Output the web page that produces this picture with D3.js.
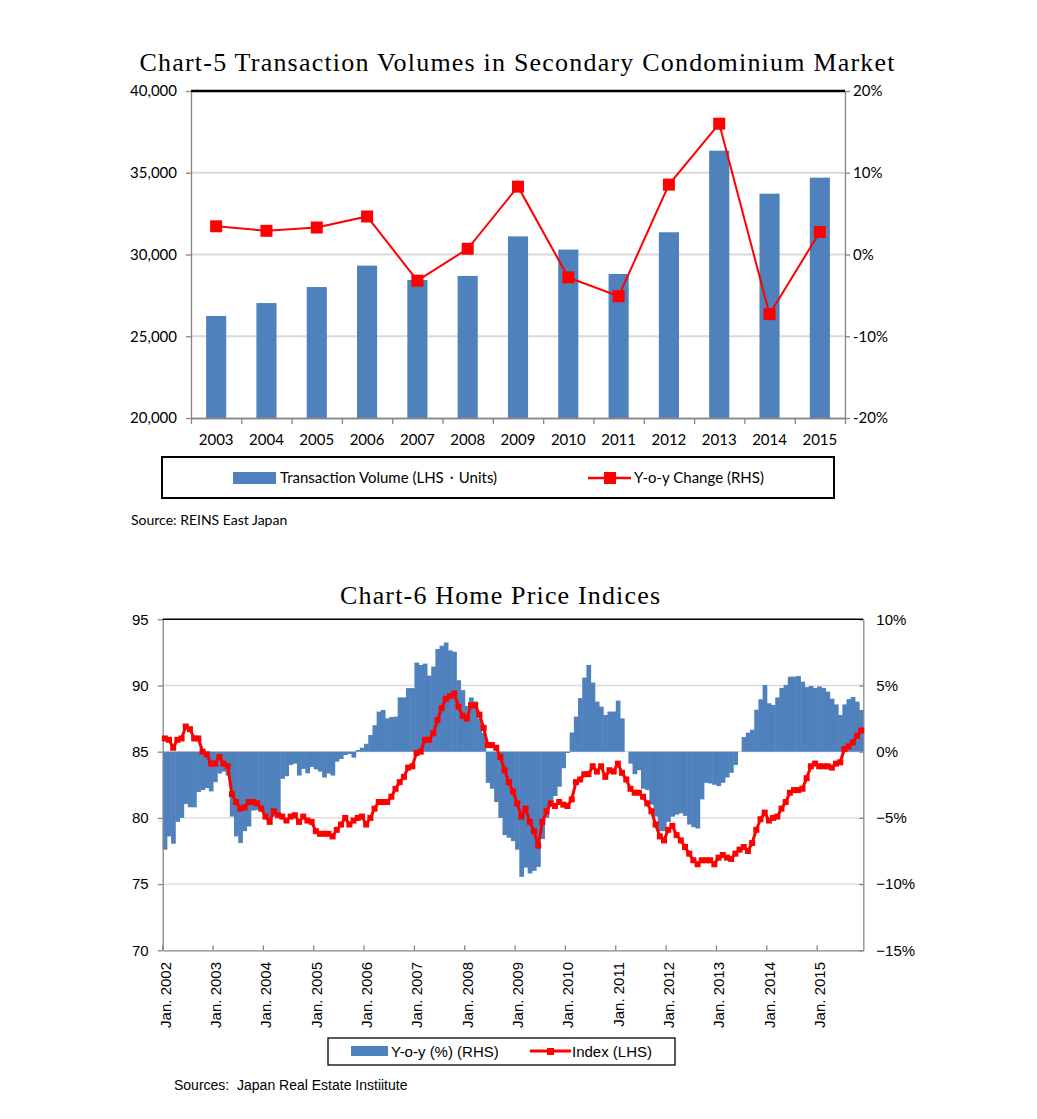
<!DOCTYPE html>
<html>
<head>
<meta charset="utf-8">
<script src="https://cdn.jsdelivr.net/npm/d3@7"></script>
<style>
  body { margin: 0; background: #fff; }
  .lbl5 { font-family: Lato, "Open Sans", sans-serif; font-size: 15px; fill: #000; }
  .lbl6 { font-family: "Liberation Sans", Arial, sans-serif; font-size: 14px; fill: #000; }
  .ttl { font-family: "Liberation Serif", "DejaVu Serif", serif; font-size: 26px; fill: #000; }
</style>
</head>
<body>
<div id="chart"></div>
<script>
// ---- Chart-5 data (annual) ----
const years5 = ["2003","2004","2005","2006","2007","2008","2009","2010","2011","2012","2013","2014","2015"];
const volume5 = [26240, 27030, 28010, 29320, 28440, 28690, 31110, 30300, 28810, 31360, 36350, 33720, 34700];
const yoy5 = [3.45, 2.9, 3.3, 4.65, -3.2, 0.7, 8.3, -2.8, -5.1, 8.55, 16.0, -7.3, 2.75];
const volTicks5 = [20000, 25000, 30000, 35000, 40000];
const pctTicks5 = [-20, -10, 0, 10, 20];

// ---- Chart-6 data (monthly, Jan 2002 - Nov 2015) ----
const yearLabels6 = ["Jan. 2002","Jan. 2003","Jan. 2004","Jan. 2005","Jan. 2006","Jan. 2007","Jan. 2008",
  "Jan. 2009","Jan. 2010","Jan. 2011","Jan. 2012","Jan. 2013","Jan. 2014","Jan. 2015"];
const index6 = [
  86.0, 85.9, 85.3, 85.9, 86.0, 86.9, 86.7, 86.0, 86.0, 85.0, 84.8, 84.1,   // 2002
  84.1, 84.6, 84.1, 83.9, 81.8, 81.2, 80.7, 80.8, 81.2, 81.2, 81.1, 80.7,   // 2003
  80.1, 79.7, 80.5, 80.2, 80.1, 79.8, 80.1, 80.2, 79.7, 80.1, 79.8, 79.7,   // 2004
  79.0, 78.8, 78.8, 78.8, 78.6, 79.1, 79.5, 80.0, 79.5, 79.8, 80.0, 80.1,   // 2005
  79.5, 80.0, 80.7, 81.2, 81.2, 81.2, 81.6, 82.2, 82.7, 83.1, 83.8, 83.9,   // 2006
  84.9, 85.0, 85.9, 85.9, 86.4, 87.4, 88.3, 89.0, 89.2, 89.4, 88.4, 87.7,   // 2007
  87.5, 88.5, 88.5, 87.8, 86.8, 85.5, 85.5, 85.3, 84.6, 83.6, 82.7, 82.0,   // 2008
  81.1, 80.1, 80.7, 79.7, 79.0, 77.9, 79.7, 80.5, 81.1, 80.9, 81.2, 81.0,   // 2009
  80.9, 81.4, 82.7, 82.9, 83.3, 83.3, 83.9, 83.5, 83.9, 83.1, 83.6, 83.5,   // 2010
  84.1, 83.4, 82.9, 82.2, 81.9, 81.9, 81.6, 81.1, 80.5, 79.5, 78.6, 78.3,   // 2011
  79.1, 79.4, 78.7, 78.3, 77.8, 77.3, 76.8, 76.5, 76.8, 76.8, 76.8, 76.5,   // 2012
  77.0, 77.2, 77.0, 76.9, 77.3, 77.6, 77.8, 77.5, 78.1, 79.1, 79.9, 80.4,   // 2013
  79.8, 80.0, 80.1, 80.7, 81.2, 81.9, 82.1, 82.1, 82.2, 83.0, 83.9, 84.1,   // 2014
  83.9, 83.9, 83.9, 83.8, 84.1, 84.2, 85.2, 85.4, 85.7, 86.2, 86.6          // 2015
];
const yoy6 = [
  -7.4, -6.4, -6.95, -5.3, -5.0, -3.95, -4.2, -4.2, -3.05, -2.9, -2.75, -3.0,   // 2002
  -2.3, -1.65, -1.5, -1.8, -4.9, -6.4, -6.9, -6.0, -5.65, -4.45, -4.4, -4.5,    // 2003
  -4.8, -5.1, -4.9, -4.9, -2.05, -1.85, -1.0, -0.9, -1.8, -1.3, -1.63, -1.15,   // 2004
  -1.33, -1.5, -1.95, -1.65, -1.8, -0.75, -0.55, -0.25, -0.17, -0.45, 0.13, 0.3, // 2005
  0.6, 1.26, 2.0, 3.03, 3.15, 2.52, 2.62, 2.65, 4.1, 4.1, 4.8, 4.8,             // 2006
  6.73, 6.55, 6.65, 5.75, 6.43, 7.75, 8.0, 8.25, 7.65, 7.55, 5.4, 4.65,         // 2007
  3.45, 4.1, 3.8, 2.5, 1.4, -2.35, -2.8, -3.8, -5.0, -6.3, -6.5, -6.75,         // 2008
  -7.4, -9.45, -8.75, -9.2, -9.0, -8.7, -6.6, -5.0, -4.15, -3.35, -2.65, -1.25, // 2009
  -0.1, 1.45, 2.65, 4.05, 5.6, 6.55, 5.22, 3.78, 3.4, 2.77, 3.03, 3.03,         // 2010
  3.86, 2.52, 0.0, -0.9, -1.7, -1.4, -2.8, -2.9, -4.0, -4.9, -6.0, -6.0,        // 2011
  -5.3, -4.9, -4.75, -4.65, -4.85, -5.5, -5.7, -5.8, -3.6, -2.35, -2.4, -2.5,   // 2012
  -2.6, -2.35, -1.95, -1.6, -1.0, 0.0, 1.1, 1.44, 1.66, 3.17, 3.96, 5.04,       // 2013
  3.66, 3.53, 4.1, 4.82, 5.04, 5.67, 5.67, 5.72, 5.29, 4.88, 4.96, 4.82,        // 2014
  4.93, 4.82, 4.54, 4.0, 3.57, 2.77, 3.57, 3.97, 4.13, 3.78, 3.15              // 2015
];
const indexTicks6 = [70, 75, 80, 85, 90, 95];
const pctTicks6 = [-15, -10, -5, 0, 5, 10];

const blue = "#4f81bd", red = "#ff0000", axisGray = "#868686", gridGray = "#d9d9d9";
const pctFmt = d => d < 0 ? "\u2212" + Math.abs(d) + "%" : d + "%";

const svg = d3.select("#chart").append("svg")
    .attr("width", 1037).attr("height", 1119)
    .style("background", "#fff");

/* ================= Chart-5 ================= */
const p5 = {left: 191, right: 845, top: 91, bottom: 418};
const x5 = d3.scaleBand().domain(years5).range([p5.left, p5.right]).paddingInner(0.6).paddingOuter(0.3);
const xb5 = d3.scaleLinear().domain([0, years5.length]).range([p5.left, p5.right]);
const yVol = d3.scaleLinear().domain([20000, 40000]).range([p5.bottom, p5.top]);
const yPct5 = d3.scaleLinear().domain([-20, 20]).range([p5.bottom, p5.top]);

svg.append("text").attr("class", "ttl")
    .attr("x", 517).attr("y", 71).attr("text-anchor", "middle")
    .attr("textLength", 755)
    .text("Chart-5 Transaction Volumes in Secondary Condominium Market");

// gridlines
svg.append("g").selectAll("line")
    .data(volTicks5.slice(1, -1))
    .join("line")
        .attr("x1", p5.left).attr("x2", p5.right)
        .attr("y1", d => yVol(d)).attr("y2", d => yVol(d))
        .attr("stroke", gridGray).attr("stroke-width", 2);

// bars
svg.append("g").selectAll("rect")
    .data(years5.map((y, i) => ({year: y, v: volume5[i]})))
    .join("rect")
        .attr("x", d => x5(d.year))
        .attr("y", d => yVol(d.v))
        .attr("width", x5.bandwidth())
        .attr("height", d => p5.bottom - yVol(d.v))
        .attr("fill", blue);

// axes
const axL5 = svg.append("g").attr("transform", `translate(${p5.left},0)`)
    .call(d3.axisLeft(yVol).tickValues(volTicks5).tickSize(5).tickSizeOuter(0).tickPadding(9).tickFormat(d3.format(",")));
const axR5 = svg.append("g").attr("transform", `translate(${p5.right},0)`)
    .call(d3.axisRight(yPct5).tickValues(pctTicks5).tickSize(5).tickSizeOuter(0).tickPadding(3).tickFormat(d => d + "%"));
const axB5 = svg.append("g").attr("transform", `translate(0,${p5.bottom})`)
    .call(d3.axisBottom(x5).tickSize(0).tickPadding(16));
const axT5 = svg.append("g").attr("transform", `translate(0,${p5.bottom})`)
    .call(d3.axisBottom(xb5).tickValues(d3.range(years5.length + 1)).tickSize(6).tickSizeOuter(0).tickFormat(""));
[axL5, axR5, axB5, axT5].forEach(g => {
  g.selectAll("path,line").attr("stroke", axisGray).attr("stroke-width", 1.3);
  g.selectAll("text").attr("class", "lbl5").attr("font-family", null).attr("font-size", null);
});
svg.append("line")
    .attr("x1", p5.left).attr("x2", p5.right)
    .attr("y1", p5.top).attr("y2", p5.top)
    .attr("stroke", "#000").attr("stroke-width", 2.5);

// y-o-y line
const line5 = d3.line().x((d, i) => x5(years5[i]) + x5.bandwidth() / 2).y(d => yPct5(d));
svg.append("path").datum(yoy5)
    .attr("d", line5).attr("fill", "none")
    .attr("stroke", red).attr("stroke-width", 2);
svg.append("g").selectAll("rect")
    .data(yoy5)
    .join("rect")
        .attr("x", (d, i) => x5(years5[i]) + x5.bandwidth() / 2 - 6)
        .attr("y", d => yPct5(d) - 6)
        .attr("width", 12).attr("height", 12)
        .attr("fill", red);

// legend 5
const lg5 = svg.append("g");
lg5.append("rect").attr("x", 162).attr("y", 457).attr("width", 672).attr("height", 41)
    .attr("fill", "none").attr("stroke", "#000").attr("stroke-width", 2);
lg5.append("rect").attr("x", 233).attr("y", 472).attr("width", 43).attr("height", 12).attr("fill", blue);
lg5.append("text").attr("class", "lbl5").attr("x", 280).attr("y", 483)
    .text("Transaction Volume (LHS\u30FBUnits)");
lg5.append("line").attr("x1", 588).attr("x2", 631).attr("y1", 478).attr("y2", 478)
    .attr("stroke", red).attr("stroke-width", 2.5);
lg5.append("rect").attr("x", 604).attr("y", 472).attr("width", 12).attr("height", 12).attr("fill", red);
lg5.append("text").attr("class", "lbl5").attr("x", 634).attr("y", 483)
    .text("Y-o-y Change (RHS)");

svg.append("text").attr("class", "lbl5").attr("x", 131).attr("y", 525)
    .style("font-size", "14px")
    .text("Source: REINS East Japan");

/* ================= Chart-6 ================= */
const p6 = {left: 162.7, right: 863.3, top: 619.3, bottom: 950.3};
const months = d3.range(index6.length);
const x6 = d3.scaleBand().domain(months).range([p6.left, p6.right]).padding(0);
const yIdx = d3.scaleLinear().domain([70, 95]).range([p6.bottom, p6.top]);
const yPct6 = d3.scaleLinear().domain([-15, 10]).range([p6.bottom, p6.top]);

svg.append("text").attr("class", "ttl")
    .attr("x", 500).attr("y", 604).attr("text-anchor", "middle")
    .attr("textLength", 320)
    .text("Chart-6 Home Price Indices");

svg.append("g").selectAll("line")
    .data(indexTicks6.slice(1, -1))
    .join("line")
        .attr("x1", p6.left).attr("x2", p6.right)
        .attr("y1", d => yIdx(d)).attr("y2", d => yIdx(d))
        .attr("stroke", gridGray).attr("stroke-width", 1.3);

// y-o-y columns
svg.append("g").selectAll("rect")
    .data(yoy6)
    .join("rect")
        .attr("x", (d, i) => x6(i))
        .attr("y", d => Math.min(yPct6(d), yPct6(0)))
        .attr("width", x6.bandwidth() + 0.5)
        .attr("height", d => Math.abs(yPct6(d) - yPct6(0)))
        .attr("fill", blue);

const axL6 = svg.append("g").attr("transform", `translate(${p6.left},0)`)
    .call(d3.axisLeft(yIdx).tickValues(indexTicks6).tickSize(5).tickSizeOuter(0).tickPadding(9));
const axR6 = svg.append("g").attr("transform", `translate(${p6.right},0)`)
    .call(d3.axisRight(yPct6).tickValues(pctTicks6).tickSize(-4).tickSizeOuter(0).tickPadding(13).tickFormat(pctFmt));
const axB6 = svg.append("g").attr("transform", `translate(0,${p6.bottom})`)
    .call(d3.axisBottom(x6).tickValues(months.filter(m => m % 12 === 0)).tickSize(-5).tickSizeOuter(0).tickFormat(""));
axB6.selectAll(".tick").attr("transform", d => `translate(${x6(d)},0)`);
[axL6, axR6, axB6].forEach(g => {
  g.selectAll("path,line").attr("stroke", axisGray).attr("stroke-width", 1.3);
  g.selectAll("text").attr("class", "lbl6").attr("font-family", null).attr("font-size", null)
      .style("font-size", "15px");
});
svg.append("line")
    .attr("x1", p6.left).attr("x2", p6.right)
    .attr("y1", p6.top).attr("y2", p6.top)
    .attr("stroke", "#000").attr("stroke-width", 1.5);

// rotated year labels
svg.append("g").selectAll("text")
    .data(yearLabels6)
    .join("text")
        .attr("class", "lbl6")
        .style("font-size", "15px")
        .attr("text-anchor", "end")
        .attr("transform", (d, i) => `translate(${x6(i * 12) + 8},962) rotate(-90)`)
        .text(d => d);

// index line
const line6 = d3.line().x((d, i) => x6(i) + x6.bandwidth() / 2).y(d => yIdx(d));
svg.append("path").datum(index6)
    .attr("d", line6).attr("fill", "none")
    .attr("stroke", red).attr("stroke-width", 3).attr("stroke-linejoin", "round");
svg.append("g").selectAll("rect")
    .data(index6)
    .join("rect")
        .attr("x", (d, i) => x6(i) + x6.bandwidth() / 2 - 3)
        .attr("y", d => yIdx(d) - 3)
        .attr("width", 6).attr("height", 6)
        .attr("fill", red);

// legend 6
const lg6 = svg.append("g");
lg6.append("rect").attr("x", 328).attr("y", 1038).attr("width", 347).attr("height", 27)
    .attr("fill", "none").attr("stroke", "#000").attr("stroke-width", 1.3);
lg6.append("rect").attr("x", 351).attr("y", 1046).attr("width", 37).attr("height", 10).attr("fill", blue);
lg6.append("text").attr("class", "lbl6").attr("x", 391).attr("y", 1057)
    .style("font-size", "15px").text("Y-o-y (%) (RHS)");
lg6.append("line").attr("x1", 530).attr("x2", 571).attr("y1", 1051).attr("y2", 1051)
    .attr("stroke", red).attr("stroke-width", 3);
lg6.append("rect").attr("x", 547).attr("y", 1048).attr("width", 7).attr("height", 7).attr("fill", red);
lg6.append("text").attr("class", "lbl6").attr("x", 572).attr("y", 1057)
    .style("font-size", "15px").text("Index (LHS)");

svg.append("text").attr("class", "lbl6").attr("x", 174).attr("y", 1090)
    .style("white-space", "pre").attr("xml:space", "preserve")
    .text("Sources:  Japan Real Estate Instiitute");
</script>
</body>
</html>
